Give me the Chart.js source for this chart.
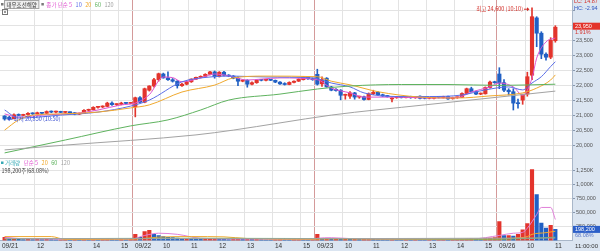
<!DOCTYPE html>
<html lang="ko">
<head>
    <meta charset="UTF-8">
    <title>대우조선해양 10분봉</title>
    <script src="https://cdn.jsdelivr.net/npm/chart.js"></script>
    <style>
        html, body { margin: 0; padding: 0; background: #fff; }
        .wrap { position: relative; width: 600px; height: 251px; overflow: hidden; }
        #priceChart { position: absolute; left: 0; top: 0; }
        #volChart { position: absolute; left: 0; top: 159px; }
    </style>
</head>
<body>
    <div class="wrap">
        <canvas id="priceChart" width="600" height="159"></canvas>
        <canvas id="volChart" width="600" height="92"></canvas>
    </div>

    <script>
        // 10분봉: 09/21 10:50 ~ 09/26 11:00 (봉 번호 0~118)
        const opens = [
            20990, 20950, 20900, 21030, 21010, 21040, 21080, 21060, 21100, 21080, 21140, 21120, 21130, 21110, 21120, 21100, 21050, 21080, 21180, 21200, 21280, 21290, 21310, 21420, 21370, 21380, 21420, 21410,
            21300, 21600, 21450, 21850, 21990, 22200, 22390, 22260, 22200, 22150, 22000, 22050, 22130, 22220, 22280, 22310, 22380, 22460, 22300, 22450, 22350, 22320, 22250, 22150, 22180, 22050, 22100, 22190, 22180, 22190, 22180, 22120, 22060, 22040, 22110, 22150, 22200, 22290, 22230,
            22380, 22060, 22250, 21960, 21880, 21850, 21680, 21650, 21760, 21620, 21630, 21540, 21730, 21780, 21700, 21660, 21560, 21600, 21620, 21600, 21630, 21600, 21650, 21600, 21580, 21580, 21620, 21600, 21640, 21570, 21600, 21610, 21740, 21900, 21800, 21720, 21730, 21940, 22120,
            22390, 22100, 21850, 21800, 21430, 21520, 21720, 22350, 24260, 23750, 23050, 22950, 23500
        ];
        const highs = [
            21000, 20980, 21060, 21060, 21050, 21100, 21100, 21120, 21110, 21160, 21160, 21150, 21150, 21140, 21130, 21110, 21090, 21200, 21220, 21300, 21310, 21330, 21450, 21460, 21400, 21450, 21440, 21440,
            21620, 21640, 21920, 22000, 22250, 22420, 22420, 22460, 22240, 22170, 22080, 22150, 22230, 22290, 22330, 22400, 22480, 22490, 22470, 22480, 22370, 22340, 22300, 22200, 22200, 22130, 22200, 22210, 22210, 22210, 22190, 22140, 22100, 22130, 22160, 22230, 22300, 22300, 22260,
            22550, 22300, 22270, 21980, 21900, 21870, 21720, 21800, 21780, 21650, 21650, 21760, 21850, 21800, 21720, 21680, 21600, 21640, 21640, 21640, 21650, 21630, 21660, 21620, 21610, 21630, 21640, 21650, 21650, 21620, 21620, 21760, 21920, 21950, 21820, 21760, 21960, 22150, 22150,
            22600, 22200, 21900, 21900, 21550, 21650, 22450, 24600, 24300, 23800, 23100, 23600, 24000
        ];
        const lows = [
            20850, 20880, 20890, 20990, 21000, 21020, 21040, 21050, 21060, 21070, 21100, 21090, 21100, 21090, 21080, 21030, 21040, 21070, 21150, 21190, 21250, 21270, 21300, 21340, 21340, 21360, 21400, 21400,
            20960, 21430, 21430, 21820, 21950, 22150, 22250, 22180, 22120, 21920, 21980, 22030, 22110, 22200, 22260, 22290, 22360, 22250, 22290, 22330, 22300, 22230, 22000, 22130, 21950, 22030, 22080, 22160, 22160, 22170, 22100, 22040, 22020, 22030, 22090, 22140, 22190, 22210, 22180,
            22020, 21980, 21950, 21830, 21820, 21530, 21550, 21580, 21550, 21580, 21520, 21530, 21700, 21680, 21640, 21620, 21460, 21580, 21590, 21590, 21580, 21580, 21560, 21560, 21560, 21560, 21590, 21590, 21540, 21550, 21580, 21600, 21720, 21790, 21700, 21700, 21720, 21920, 22080,
            21900, 21800, 21690, 21190, 21250, 21380, 21650, 22200, 23300, 22900, 22850, 22900, 23450
        ];
        const closes = [
            20890, 20900, 21030, 21010, 21040, 21080, 21060, 21100, 21080, 21140, 21120, 21130, 21110, 21120, 21100, 21050, 21080, 21180, 21200, 21280, 21290, 21310, 21420, 21370, 21380, 21420, 21410, 21430,
            21600, 21450, 21900, 21990, 22200, 22400, 22260, 22200, 22150, 22000, 22050, 22130, 22220, 22280, 22310, 22380, 22460, 22300, 22450, 22350, 22320, 22250, 22150, 22180, 22050, 22100, 22190, 22180, 22190, 22180, 22120, 22060, 22040, 22110, 22150, 22220, 22290, 22230, 22200,
            22050, 22200, 21960, 21850, 21840, 21680, 21700, 21760, 21620, 21630, 21540, 21730, 21780, 21700, 21660, 21640, 21590, 21620, 21600, 21630, 21600, 21610, 21580, 21580, 21590, 21620, 21610, 21640, 21560, 21600, 21610, 21740, 21900, 21800, 21720, 21740, 21940, 22120, 22100,
            22090, 21850, 21800, 21420, 21400, 21720, 22300, 24300, 23750, 23050, 22950, 23520, 23950
        ];
        const volumes = [
            55000, 30000, 35000, 20000, 18000, 25000, 15000, 20000, 15000, 22000, 15000, 12000, 14000, 16000, 12000, 22000, 15000, 30000, 20000, 25000, 18000, 20000, 35000, 25000, 15000, 28000, 18000, 25000,
            110000, 55000, 160000, 180000, 110000, 90000, 70000, 55000, 50000, 45000, 25000, 30000, 28000, 25000, 22000, 28000, 30000, 35000, 25000, 22000, 18000, 20000, 30000, 22000, 40000, 25000, 30000, 15000, 14000, 12000, 18000, 22000, 16000, 15000, 20000, 25000, 22000, 18000, 20000,
            110000, 35000, 40000, 30000, 30000, 25000, 35000, 28000, 30000, 20000, 25000, 30000, 25000, 18000, 15000, 14000, 20000, 15000, 12000, 14000, 12000, 15000, 13000, 12000, 14000, 12000, 15000, 18000, 12000, 14000, 16000, 20000, 25000, 30000, 22000, 18000, 35000, 45000, 50000,
            340000, 90000, 90000, 80000, 110000, 190000, 300000, 1265000, 820000, 310000, 220000, 270000, 198200
        ];

        // 이동평균선 (화면에서 읽은 값: [봉 번호, 값])
        const ma5 = [[0, 21060], [3, 20950], [8, 21020], [16, 21090], [20, 21190], [25, 21360], [28, 21420], [31, 21700], [34, 22290], [36, 22270], [38, 22130], [42, 22260], [45, 22390], [48, 22330], [52, 22190], [55, 22220], [59, 22260], [67, 22200], [70, 21920], [74, 21760], [77, 21620], [84, 21620], [91, 21590], [97, 21600], [100, 21790], [104, 21960], [106, 22090], [109, 21960], [111, 21680], [113, 22250], [114, 22920], [116, 23460], [118, 23590]];
        const ma10 = [[0, 21190], [3, 20920], [12, 21020], [20, 21120], [27, 21320], [31, 21520], [38, 22130], [44, 22290], [49, 22320], [56, 22290], [66, 22260], [70, 22090], [74, 21960], [77, 21760], [84, 21640], [91, 21640], [98, 21690], [103, 21860], [108, 21960], [111, 21860], [113, 22090], [115, 22300], [117, 22640], [118, 22800]];
        const ma20 = [[0, 20520], [3, 20860], [6, 21020], [12, 21060], [20, 21120], [27, 21260], [31, 21360], [38, 21790], [45, 22020], [49, 22260], [56, 22320], [67, 22300], [70, 22150], [74, 22030], [80, 21800], [89, 21620], [97, 21590], [104, 21660], [111, 21760], [114, 21920], [117, 22190], [118, 22360]];
        const ma60 = [[0, 19760], [13, 20190], [27, 20660], [35, 20860], [42, 21190], [48, 21520], [59, 21720], [67, 21890], [74, 21990], [85, 22040], [95, 22040], [106, 22010], [118, 22050]];
        const ma120 = [[0, 19860], [13, 20020], [41, 20360], [49, 20520], [59, 20760], [70, 21020], [90, 21360], [104, 21590], [118, 21820]];

        const volMa5 = [[0, 60000], [4, 30000], [20, 22000], [27, 25000], [30, 90000], [33, 130000], [37, 110000], [42, 40000], [50, 28000], [66, 20000], [67, 40000], [70, 50000], [75, 30000], [90, 15000], [100, 25000], [106, 90000], [109, 130000], [111, 145000], [112, 220000], [114, 464000], [115, 590000], [117, 590000], [118, 375000]];
        const volMa20 = [[0, 70000], [10, 70000], [13, 20000], [28, 25000], [33, 60000], [40, 70000], [47, 65000], [52, 35000], [66, 22000], [70, 30000], [86, 25000], [105, 22000], [109, 40000], [112, 70000], [113, 110000], [116, 140000], [118, 165000]];
        const volMa60 = [[0, 30000], [40, 40000], [66, 35000], [105, 25000], [112, 35000], [118, 60000]];
        const volMa120 = [[0, 35000], [60, 32000], [118, 45000]];

        // 축 눈금
        const priceTicks = [20000, 20500, 21000, 21500, 22000, 22500, 23000, 23500, 24000, 24500];
        const priceLabelTop = 23500;
        const volTicks = [250000, 500000, 750000, 1000000, 1250000];
        const volTickLabels = ['250,000', '500,000', '750,000', '1,000K', '1,250K'];
        const timeTickIdx = [null, 7, 13, 19, 25, 28, 34, 40, 46, 52, 58, 64, 67, 73, 79, 85, 91, 97, 103, 106, 112, 118];
        const timeTickText = ['09/21', '12', '13', '14', '15', '09/22', '10', '11', '12', '13', '14', '15', '09/23', '10', '11', '12', '13', '14', '15', '09/26', '10', '11'];

        const stockName = '대우조선해양';
        const lowNote = '최저 20,850 (10:50)';
        const highNote = '최고 24,600 (10:10)';
        const lcText = 'LC: 14.87';
        const hcText = 'HC: -2.94';
        const changeText = '1.91%';
        const volRatioText = '68.08%';
        const clockText = '11:00:00';

        // 레이아웃/색
        const xMin = -0.99, xMax = 121.57;
        const yMin = 19590, yMax = 24857;
        const volMax = 1455000;
        const AXIS_W = 28;
        const AXIS_BG = '#dbe5f1';
        const GRID = '#e3e3e3';
        const DAY_LINE = '#d49a9a';
        const RED = '#e3342c';
        const BLUE = '#2160c4';
        const C5 = '#e055d0', C10 = '#5b6ee8', C20 = '#f0a92e', C60 = '#5fb35f', C120 = '#a3a3a3';
        const TEAL = '#35a9b5';
        const KFONT = "5.5px 'Noto Sans CJK KR', sans-serif";
        const AXFONT = "5.5px 'Liberation Sans', sans-serif";

        Chart.defaults.font.family = "'Liberation Sans', 'Noto Sans CJK KR', sans-serif";
        Chart.defaults.font.size = 5.5;
        Chart.defaults.color = '#555';

        const timeTickVals = timeTickIdx.map(i => i === null ? xMin : i - 0.5);
        const gridColorX = ctx => {
            if (ctx.index === 0) return 'rgba(0,0,0,0)';
            const t = timeTickText[ctx.index];
            return t && t.includes('/') ? DAY_LINE : GRID;
        };

        const candleColor = closes.map((c, i) => c >= opens[i] ? RED : BLUE);
        const volColor = volumes.map((v, i) => i === 0 || v >= volumes[i - 1] ? RED : BLUE);

        const lineSet = (pts, color) => ({
            type: 'line',
            data: pts.map(p => ({ x: p[0], y: p[1] })),
            borderColor: color,
            borderWidth: 1,
            pointRadius: 0,
            cubicInterpolationMode: 'monotone',
            order: 0
        });

        function drawLegend(ctx, items, x, y) {
            items.forEach(([t, c]) => {
                ctx.fillStyle = c;
                ctx.fillText(t, x, y);
                x += ctx.measureText(t).width + 3.5;
            });
            return x;
        }

        const priceDeco = {
            id: 'priceDeco',
            beforeDraw(chart) {
                const { ctx, chartArea: a, width, height } = chart;
                ctx.save();
                ctx.fillStyle = '#fff';
                ctx.fillRect(0, 0, width, height);
                ctx.fillStyle = AXIS_BG;
                ctx.fillRect(a.right, 0, width - a.right, height);
                ctx.restore();
            },
            afterDraw(chart) {
                const { ctx, chartArea: a, width, scales: { x, y } } = chart;
                ctx.save();
                ctx.lineWidth = 1;
                ctx.strokeStyle = '#c9c9c9';
                ctx.beginPath();
                ctx.moveTo(0, a.bottom + 0.5);
                ctx.lineTo(a.right, a.bottom + 0.5);
                ctx.stroke();

                // 범례
                ctx.font = KFONT;
                ctx.textBaseline = 'middle';
                ctx.textAlign = 'left';
                ctx.fillStyle = '#7a7a7a';
                ctx.fillRect(1, 3, 2.5, 2.5);
                const nw = ctx.measureText(stockName).width;
                ctx.fillStyle = '#eeeeee';
                ctx.fillRect(4.5, 0.5, nw + 4, 8);
                ctx.strokeStyle = '#a5a5a5';
                ctx.strokeRect(4.5, 0.5, nw + 4, 8);
                ctx.fillStyle = '#333';
                ctx.fillText(stockName, 6.5, 4.7);
                let cx = nw + 11;
                ctx.fillStyle = '#7a7a7a';
                ctx.fillRect(cx, 3, 2.5, 2.5);
                drawLegend(ctx, [['종가 단순 5', C5], ['10', C10], ['20', C20], ['60', C60], ['120', C120]], cx + 5, 4.7);
                ctx.strokeStyle = '#777';
                ctx.strokeRect(2.5, 9.5, 5, 5);
                ctx.fillStyle = '#999';
                ctx.fillRect(4, 11, 2, 2);

                // 최저가 표시
                const iLow = lows.indexOf(Math.min(...lows));
                const lx = x.getPixelForValue(iLow), ly = y.getPixelForValue(lows[iLow]) - 1;
                ctx.strokeStyle = '#3a4fd0';
                ctx.fillStyle = '#3a4fd0';
                ctx.beginPath();
                ctx.moveTo(lx + 4, ly);
                ctx.lineTo(lx + 8, ly);
                ctx.stroke();
                ctx.beginPath();
                ctx.moveTo(lx + 2.5, ly);
                ctx.lineTo(lx + 5, ly - 2);
                ctx.lineTo(lx + 5, ly + 2);
                ctx.fill();
                ctx.fillText(lowNote, lx + 9, ly);

                // 최고가 표시
                const iHigh = highs.indexOf(Math.max(...highs));
                const hx = x.getPixelForValue(iHigh), hy = y.getPixelForValue(highs[iHigh]) + 1.5;
                ctx.strokeStyle = '#d3302a';
                ctx.fillStyle = '#d3302a';
                ctx.beginPath();
                ctx.moveTo(hx - 8, hy);
                ctx.lineTo(hx - 4, hy);
                ctx.stroke();
                ctx.beginPath();
                ctx.moveTo(hx - 2.5, hy);
                ctx.lineTo(hx - 5, hy - 2);
                ctx.lineTo(hx - 5, hy + 2);
                ctx.fill();
                ctx.textAlign = 'right';
                ctx.fillText(highNote, hx - 9, hy);

                // 오른쪽 축 표시
                ctx.textAlign = 'left';
                ctx.font = AXFONT;
                ctx.fillStyle = '#d3302a';
                ctx.fillText(lcText, a.right + 2, 1.8);
                ctx.fillStyle = '#2f55c0';
                ctx.fillText(hcText, a.right + 2, 8.5);

                const last = closes[closes.length - 1];
                const py = y.getPixelForValue(last) - 1;
                ctx.fillStyle = RED;
                ctx.fillRect(a.right + 1, py - 3.5, width - a.right - 1, 7);
                ctx.fillStyle = '#fff';
                ctx.fillText(last.toLocaleString('en-US'), a.right + 3, py);
                ctx.fillStyle = '#d3302a';
                ctx.fillText(changeText, a.right + 3, py + 6.5);
                ctx.restore();
            }
        };

        const volDeco = {
            id: 'volDeco',
            beforeDraw(chart) {
                const { ctx, chartArea: a, width, height } = chart;
                ctx.save();
                ctx.fillStyle = '#fff';
                ctx.fillRect(0, 0, width, height);
                ctx.fillStyle = AXIS_BG;
                ctx.fillRect(a.right, 0, width - a.right, height);
                ctx.fillRect(0, a.bottom, width, height - a.bottom);
                ctx.restore();
            },
            afterDraw(chart) {
                const { ctx, chartArea: a, width, scales: { y } } = chart;
                ctx.save();
                ctx.font = KFONT;
                ctx.textBaseline = 'middle';
                ctx.textAlign = 'left';
                ctx.fillStyle = TEAL;
                ctx.fillRect(1, 2.5, 2.5, 2.5);
                drawLegend(ctx, [['거래량', TEAL], ['단순 5', C5], ['20', C20], ['60', C60], ['120', C120]], 5, 4);
                const lastVol = volumes[volumes.length - 1];
                ctx.fillStyle = '#444';
                ctx.fillText(lastVol.toLocaleString('en-US') + '주(' + volRatioText + ')', 1.5, 11.5);

                ctx.font = AXFONT;
                const vy = y.getPixelForValue(lastVol);
                ctx.fillStyle = '#2c5fc8';
                ctx.fillRect(a.right + 1, vy - 3.5, width - a.right - 1, 7);
                ctx.fillStyle = '#fff';
                ctx.fillText(lastVol.toLocaleString('en-US'), a.right + 3, vy);
                ctx.fillStyle = '#5b78c8';
                ctx.fillText(volRatioText, a.right + 3, vy + 6.5);

                ctx.fillStyle = '#333';
                ctx.textAlign = 'right';
                ctx.font = "6px 'Liberation Sans', sans-serif";
                ctx.fillText(clockText, width - 2, a.bottom + 5.5);
                ctx.restore();
            }
        };

        const xScale = (showLabels) => ({
            type: 'linear',
            min: xMin,
            max: xMax,
            offset: false,
            afterBuildTicks: s => { s.ticks = timeTickVals.map(v => ({ value: v })); },
            afterFit: s => { s.height = showLabels ? 10.5 : 0; s.paddingLeft = 0; s.paddingRight = 0; },
            ticks: showLabels
                ? { display: true, callback: (v, i) => timeTickText[i], align: 'start', labelOffset: 2, padding: 2, autoSkip: false, maxRotation: 0, font: { size: 6.5 }, color: '#333' }
                : { display: false },
            grid: { color: gridColorX, drawTicks: false, offset: false },
            border: showLabels ? { color: '#a9b7c9' } : { display: false }
        });

        new Chart(document.getElementById('priceChart'), {
            type: 'bar',
            data: {
                datasets: [
                    lineSet(ma120, C120),
                    lineSet(ma60, C60),
                    lineSet(ma20, C20),
                    lineSet(ma10, C10),
                    lineSet(ma5, C5),
                    {
                        data: opens.map((o, i) => ({ x: i, y: [Math.min(o, closes[i]), Math.max(o, closes[i])] })),
                        backgroundColor: candleColor,
                        barThickness: 3.5,
                        minBarLength: 1,
                        grouped: false,
                        order: 1
                    },
                    {
                        data: highs.map((h, i) => ({ x: i, y: [lows[i], h] })),
                        backgroundColor: candleColor,
                        barThickness: 1,
                        grouped: false,
                        order: 2
                    }
                ]
            },
            options: {
                responsive: false,
                animation: false,
                layout: { padding: { top: 0, right: 0, bottom: 1, left: 0 } },
                plugins: { legend: { display: false }, tooltip: { enabled: false } },
                scales: {
                    x: xScale(false),
                    y: {
                        position: 'right',
                        min: yMin,
                        max: yMax,
                        afterBuildTicks: s => { s.ticks = priceTicks.map(v => ({ value: v })); },
                        afterFit: s => { s.width = AXIS_W; s.paddingTop = 0; s.paddingBottom = 0; },
                        ticks: { callback: v => v > priceLabelTop ? '' : v.toLocaleString('en-US'), padding: 1, color: '#555' },
                        grid: { color: GRID, tickLength: 3, tickColor: '#8797ad' },
                        border: { color: '#a9b7c9' }
                    }
                }
            },
            plugins: [priceDeco]
        });

        new Chart(document.getElementById('volChart'), {
            type: 'bar',
            data: {
                datasets: [
                    lineSet(volMa120, C120),
                    lineSet(volMa60, C60),
                    lineSet(volMa20, C20),
                    lineSet(volMa5, '#e07fd8'),
                    {
                        data: volumes.map((v, i) => ({ x: i, y: v })),
                        backgroundColor: volColor,
                        barThickness: 3.5,
                        grouped: false,
                        order: 1
                    }
                ]
            },
            options: {
                responsive: false,
                animation: false,
                layout: { padding: 0 },
                plugins: { legend: { display: false }, tooltip: { enabled: false } },
                scales: {
                    x: xScale(true),
                    y: {
                        position: 'right',
                        min: 0,
                        max: volMax,
                        afterBuildTicks: s => { s.ticks = volTicks.map(v => ({ value: v })); },
                        afterFit: s => { s.width = AXIS_W; s.paddingTop = 0; s.paddingBottom = 0; },
                        ticks: { callback: (v, i) => volTickLabels[i], padding: 1, color: '#555' },
                        grid: { color: GRID, tickLength: 3, tickColor: '#8797ad' },
                        border: { color: '#a9b7c9' }
                    }
                }
            },
            plugins: [volDeco]
        });
    </script>
</body>
</html>
